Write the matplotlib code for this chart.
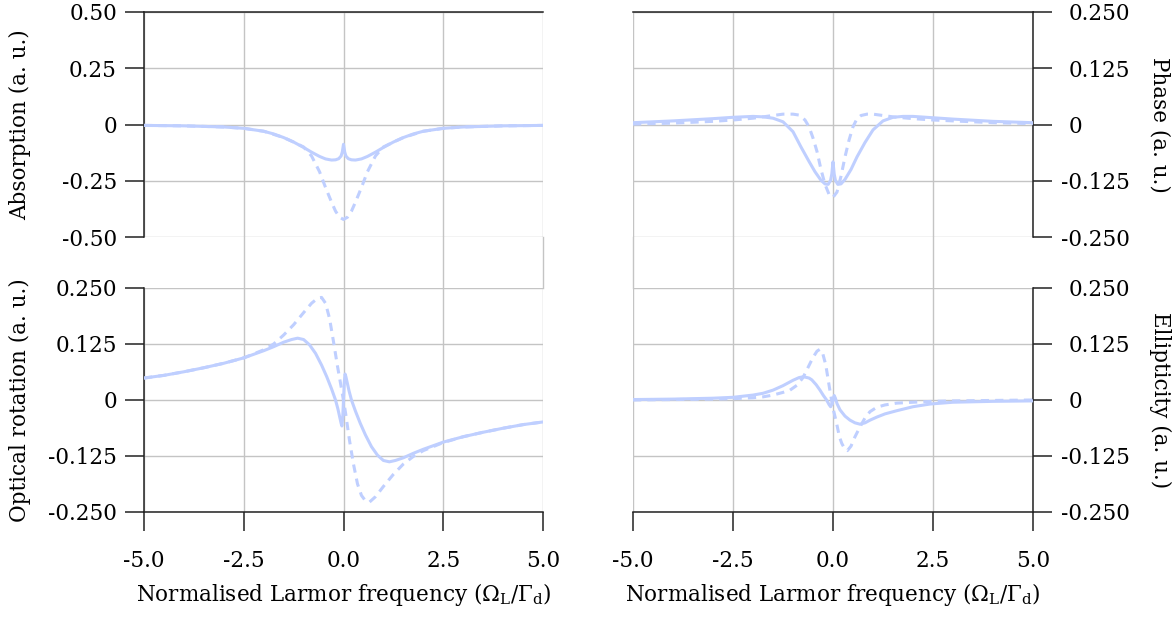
import matplotlib
matplotlib.use('Agg')
import matplotlib.pyplot as plt
from matplotlib.transforms import ScaledTranslation

# ---------------- data ----------------
# Absorption (top-left)
abs_solid_x = [-5, -4, -3, -2.5, -2, -1.75, -1.5, -1.25, -1.0, -0.8, -0.6, -0.45, -0.3, -0.2, -0.12,
               -0.06, -0.03, 0, 0.03, 0.06, 0.12, 0.2, 0.3, 0.45, 0.6, 0.8, 1.0, 1.25, 1.5, 1.75, 2, 2.5, 3, 4, 5]
abs_solid_y = [-0.004, -0.006, -0.011, -0.017, -0.030, -0.042, -0.058, -0.078, -0.102, -0.123, -0.142, -0.153,
               -0.158, -0.157, -0.152, -0.140, -0.122, -0.088, -0.122, -0.140, -0.152, -0.157, -0.158, -0.153,
               -0.142, -0.123, -0.102, -0.078, -0.058, -0.042, -0.030, -0.017, -0.011, -0.006, -0.004]
abs_dash_x = [-5, -4, -3, -2.5, -2, -1.5, -1.25, -1.0, -0.8, -0.6, -0.45, -0.3, -0.2, -0.1, 0,
              0.1, 0.2, 0.3, 0.45, 0.6, 0.8, 1.0, 1.25, 1.5, 2, 2.5, 3, 4, 5]
abs_dash_y = [-0.004, -0.006, -0.011, -0.017, -0.030, -0.058, -0.078, -0.100, -0.140, -0.210, -0.280, -0.345,
              -0.385, -0.412, -0.422, -0.412, -0.385, -0.345, -0.280, -0.210, -0.140, -0.100, -0.078, -0.058,
              -0.030, -0.017, -0.011, -0.006, -0.004]

# Phase (top-right)
ph_solid_x = [-5, -4, -3, -2.5, -2, -1.75, -1.5, -1.25, -1.0, -0.8, -0.6, -0.45, -0.3, -0.2, -0.12,
              -0.06, -0.03, 0, 0.03, 0.06, 0.12, 0.2, 0.3, 0.45, 0.6, 0.8, 1.0, 1.25, 1.5, 1.75, 2, 2.5, 3, 4, 5]
ph_solid_y = [0.004, 0.008, 0.013, 0.016, 0.018, 0.017, 0.014, 0.006, -0.016, -0.050, -0.082, -0.105, -0.124,
              -0.132, -0.133, -0.124, -0.110, -0.083, -0.110, -0.124, -0.133, -0.132, -0.122, -0.100, -0.072,
              -0.040, -0.012, 0.008, 0.016, 0.018, 0.018, 0.015, 0.012, 0.007, 0.004]
ph_dash_x = [-5, -4, -3, -2.5, -2, -1.5, -1.25, -1.0, -0.85, -0.7, -0.6, -0.5, -0.4, -0.3, -0.2, -0.1, 0,
             0.1, 0.2, 0.3, 0.4, 0.5, 0.6, 0.7, 0.85, 1.0, 1.25, 1.5, 2, 2.5, 3, 4, 5]
ph_dash_y = [0.001, 0.003, 0.007, 0.010, 0.014, 0.020, 0.023, 0.023, 0.021, 0.010, -0.005, -0.030, -0.060,
             -0.100, -0.133, -0.155, -0.162, -0.150, -0.115, -0.072, -0.035, -0.005, 0.013, 0.020, 0.023,
             0.023, 0.020, 0.017, 0.013, 0.010, 0.008, 0.004, 0.002]

# Optical rotation (bottom-left)
or_solid_x = [-5, -4.5, -4, -3.5, -3, -2.5, -2, -1.75, -1.5, -1.3, -1.15, -1.0, -0.85, -0.7, -0.55, -0.42,
              -0.3, -0.2, -0.14, -0.09, -0.06, -0.04, -0.02, 0, 0.02, 0.04, 0.06, 0.09, 0.14, 0.2, 0.3, 0.42,
              0.55, 0.7, 0.85, 1.0, 1.15, 1.3, 1.5, 1.75, 2, 2.5, 3, 3.5, 4, 4.5, 5]
or_solid_y = [0.049, 0.055, 0.063, 0.072, 0.082, 0.094, 0.110, 0.119, 0.129, 0.135, 0.138, 0.135, 0.123,
              0.104, 0.078, 0.052, 0.025, 0.000, -0.020, -0.040, -0.052, -0.058, -0.040, 0.000, 0.040, 0.058,
              0.052, 0.040, 0.020, 0.000, -0.025, -0.052, -0.078, -0.104, -0.123, -0.135, -0.138, -0.135,
              -0.129, -0.119, -0.110, -0.094, -0.082, -0.072, -0.063, -0.055, -0.049]
or_dash_x = [-5, -4.5, -4, -3.5, -3, -2.5, -2, -1.75, -1.5, -1.25, -1.0, -0.8, -0.65, -0.55, -0.45, -0.35,
             -0.25, -0.15, -0.05, 0.05, 0.15, 0.25, 0.35, 0.45, 0.55, 0.65, 0.8, 1.0, 1.25, 1.5, 1.75, 2,
             2.5, 3, 3.5, 4, 4.5, 5]
or_dash_y = [0.049, 0.055, 0.063, 0.072, 0.082, 0.094, 0.112, 0.125, 0.145, 0.168, 0.195, 0.216, 0.227,
             0.229, 0.216, 0.182, 0.130, 0.075, 0.025, -0.028, -0.090, -0.143, -0.187, -0.213, -0.225, -0.228,
             -0.216, -0.193, -0.166, -0.143, -0.126, -0.113, -0.095, -0.082, -0.072, -0.063, -0.055, -0.049]

# Ellipticity (bottom-right)
el_solid_x = [-5, -4, -3, -2.5, -2, -1.75, -1.5, -1.25, -1.0, -0.85, -0.74, -0.6, -0.53, -0.42, -0.325,
              -0.24, -0.16, -0.1, -0.06, -0.03, 0, 0.03, 0.06, 0.1, 0.175, 0.3, 0.425, 0.55, 0.675, 0.8,
              0.925, 1.1, 1.3, 1.59, 2.0, 2.425, 3, 4, 5]
el_solid_y = [0.001, 0.002, 0.004, 0.006, 0.011, 0.015, 0.022, 0.032, 0.044, 0.050, 0.052, 0.049, 0.045,
              0.034, 0.022, 0.010, 0.000, -0.010, -0.015, -0.010, 0.000, 0.010, 0.004, -0.008, -0.022,
              -0.036, -0.045, -0.051, -0.054, -0.051, -0.045, -0.038, -0.031, -0.024, -0.015, -0.009,
              -0.005, -0.003, -0.002]
el_dash_x = [-5, -4, -3, -2.5, -2, -1.75, -1.5, -1.25, -1.075, -0.9, -0.75, -0.6, -0.5, -0.4, -0.33, -0.26,
             -0.18, -0.12, -0.06, 0, 0.09, 0.16, 0.22, 0.3, 0.36, 0.45, 0.55, 0.675, 0.8, 0.925, 1.1, 1.3,
             1.59, 2, 2.5, 3, 4, 5]
el_dash_y = [0.000, 0.001, 0.002, 0.003, 0.005, 0.007, 0.011, 0.017, 0.022, 0.033, 0.050, 0.077, 0.095,
             0.109, 0.113, 0.105, 0.078, 0.045, 0.012, -0.018, -0.052, -0.082, -0.097, -0.110, -0.113,
             -0.103, -0.082, -0.060, -0.040, -0.026, -0.016, -0.011, -0.007, -0.005, -0.003, -0.002,
             -0.001, 0.000]

x_ticks = [-5.0, -2.5, 0.0, 2.5, 5.0]
x_ticklabels = ['-5.0', '-2.5', '0.0', '2.5', '5.0']
abs_ticks = [-0.5, -0.25, 0, 0.25, 0.5]
abs_ticklabels = ['-0.50', '-0.25', '0', '0.25', '0.50']
small_ticks = [-0.25, -0.125, 0, 0.125, 0.25]
small_ticklabels = ['-0.250', '-0.125', '0', '0.125', '0.250']

x_label = 'Normalised Larmor frequency (Ω$_{\\mathrm{L}}$/Γ$_{\\mathrm{d}}$)'

# ---------------- style ----------------
FONT = 'DejaVu Serif'
plt.rcParams['font.family'] = [FONT]
plt.rcParams['mathtext.fontset'] = 'dejavuserif'
plt.rcParams['axes.unicode_minus'] = False
FS = 15.5
LINE_C = '#bfcfff'
GRID_C = '#c4c4c4'
SPINE_C = '#222222'
LW = 2.2
TICK_LEN = 13.5

W, H = 1176, 617
fig = plt.figure(figsize=(W / 100, H / 100), dpi=100)


def rect(x0, x1, y0, y1):
    return [x0 / W, 1 - y1 / H, (x1 - x0) / W, (y1 - y0) / H]


ax_abs = fig.add_axes(rect(144, 543, 12, 237))
ax_ph = fig.add_axes(rect(633, 1033, 12, 237))
ax_or = fig.add_axes(rect(144, 543, 288, 512))
ax_el = fig.add_axes(rect(633, 1033, 288, 512))

panels = [
    (ax_abs, abs_solid_x, abs_solid_y, abs_dash_x, abs_dash_y, abs_ticks, abs_ticklabels, 'left', 'top', 'Absorption (a. u.)'),
    (ax_ph, ph_solid_x, ph_solid_y, ph_dash_x, ph_dash_y, small_ticks, small_ticklabels, 'right', 'top', 'Phase (a. u.)'),
    (ax_or, or_solid_x, or_solid_y, or_dash_x, or_dash_y, small_ticks, small_ticklabels, 'left', 'bottom', 'Optical rotation (a. u.)'),
    (ax_el, el_solid_x, el_solid_y, el_dash_x, el_dash_y, small_ticks, small_ticklabels, 'right', 'bottom', 'Ellipticity (a. u.)'),
]

for ax, sx, sy, dx, dy, yt, ytl, yside, xside, ylab in panels:
    ax.set_xlim(-5, 5)
    ax.set_ylim(yt[0], yt[-1])
    ax.set_xticks(x_ticks)
    ax.set_yticks(yt)
    ax.set_yticklabels(ytl)
    ax.grid(True, color=GRID_C, lw=1.0)
    ax.set_axisbelow(True)
    ax.plot(dx, dy, color=LINE_C, lw=LW, ls=(0, (2.7, 2.0)), zorder=3)
    ax.plot(sx, sy, color=LINE_C, lw=LW, zorder=4)
    for s in ax.spines.values():
        s.set_visible(False)
        s.set_color(SPINE_C)
        s.set_linewidth(1.1)
    ax.spines[yside].set_visible(True)
    ax.spines[xside].set_visible(True)
    ax.tick_params(axis='both', direction='out', length=TICK_LEN, width=1.1, color=SPINE_C,
                   labelsize=FS)
    if xside == 'top':
        ax.tick_params(axis='x', length=0, labelbottom=False, bottom=False, top=False)
        # vertical grid lines continuing through the gap between the rows
        gap = (288 - 237) / 225
        inner = [-2.5, 0.0, 2.5, 5.0] if yside == 'left' else [-5.0, -2.5, 0.0, 2.5]
        for xv in inner:
            ax.plot([xv, xv], [0, -gap], transform=ax.get_xaxis_transform(), clip_on=False,
                    color=GRID_C, lw=1.0, zorder=0.5)
    else:
        ax.set_xticklabels(x_ticklabels)
        ax.tick_params(axis='x', pad=14)
        ax.set_xlabel(x_label, fontsize=FS)
        ax.xaxis.set_label_coords(0.5, -0.37)
        ax.xaxis.label.set_va('center')
    if yside == 'left':
        ax.tick_params(axis='y', left=True, right=False, labelleft=True, labelright=False, pad=6)
        ax.set_ylabel(ylab, fontsize=FS)
        ax.yaxis.set_label_coords(-0.311, 0.5)
        ax.yaxis.label.set_va('center')
    else:
        ax.yaxis.tick_right()
        ax.yaxis.set_label_position('right')
        ax.tick_params(axis='y', left=False, right=True, labelleft=False, labelright=True, pad=12.5)
        ax.set_ylabel(ylab, fontsize=FS, rotation=270)
        ax.yaxis.set_label_coords(1.3175, 0.5)
        ax.yaxis.label.set_va('center')

fig.canvas.draw()
# hang the minus sign of right-hand tick labels into the padding
for ax in (ax_ph, ax_el):
    for tick in ax.yaxis.get_major_ticks():
        lbl = tick.label2
        if lbl.get_text().startswith('-'):
            lbl.set_transform(lbl.get_transform() + ScaledTranslation(-8 / 100, 0, fig.dpi_scale_trans))

fig.savefig('out.png', dpi=100)
